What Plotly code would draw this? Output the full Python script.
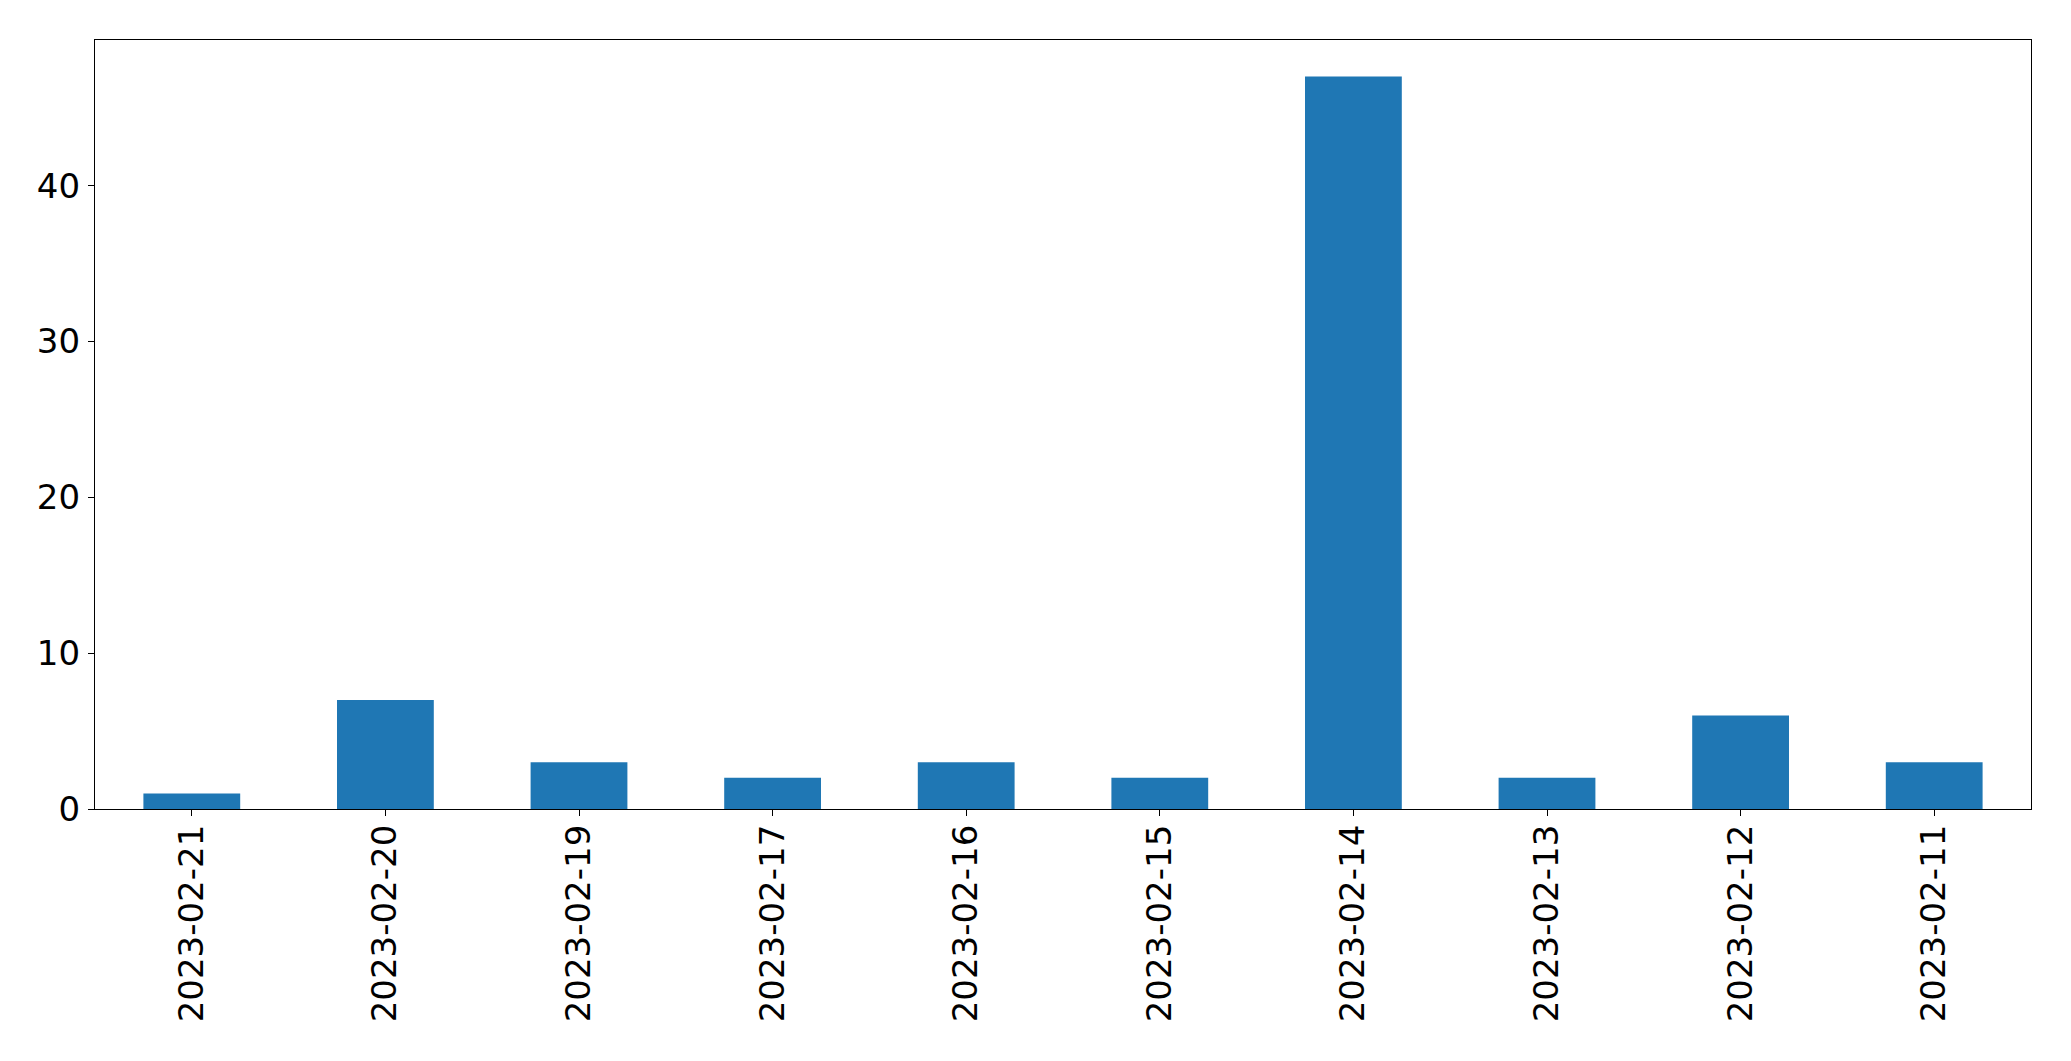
import plotly.graph_objects as go

dates = ["2023-02-21", "2023-02-20", "2023-02-19", "2023-02-17", "2023-02-16",
         "2023-02-15", "2023-02-14", "2023-02-13", "2023-02-12", "2023-02-11"]
counts = [1, 7, 3, 2, 3, 2, 47, 2, 6, 3]
y_ticks = [0, 10, 20, 30, 40]

fig = go.Figure(go.Bar(x=dates, y=counts, marker=dict(color="#1f77b4", line=dict(width=0)), width=0.5))

font = dict(family="DejaVu Sans", size=34, color="black")
fig.update_layout(
    width=2071, height=1061,
    margin=dict(l=94.5, r=39.5, t=39.5, b=252, autoexpand=False),
    plot_bgcolor="white", paper_bgcolor="white",
    showlegend=False, font=font,
)
fig.update_xaxes(
    type="category", range=[-0.5, 9.5], tickangle=-90,
    showline=True, linecolor="black", linewidth=1.3, mirror=True,
    ticks="outside", ticklen=6, tickwidth=1.3, tickcolor="black",
    showgrid=False, zeroline=False, tickfont=font, ticklabelstandoff=-5,
)
fig.update_yaxes(
    range=[0, 49.35], tickvals=y_ticks,
    showline=True, linecolor="black", linewidth=1.3, mirror=True,
    ticks="outside", ticklen=6, tickwidth=1.3, tickcolor="black",
    showgrid=False, zeroline=False, tickfont=font, ticklabelstandoff=1,
)
fig.write_html("out.html", config={"displayModeBar": False},
               post_script="document.body.style.margin='0';document.body.style.overflow='hidden';")
